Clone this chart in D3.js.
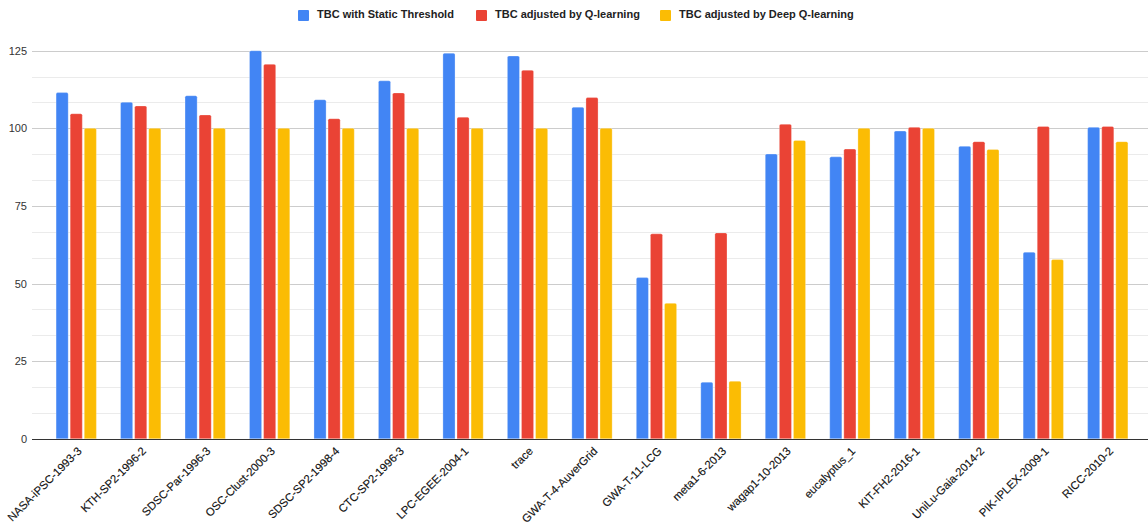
<!DOCTYPE html>
<html>
<head>
<meta charset="utf-8">
<script src="https://cdn.jsdelivr.net/npm/d3@7"></script>
<style>
  html, body { margin: 0; padding: 0; background: #fff; }
  svg { display: block; font-family: Arial, "Liberation Sans", sans-serif; }
</style>
</head>
<body>
<svg id="chart" width="1148" height="531"></svg>
<script>
// Workload traces on the x axis
const categories = [
  "NASA-iPSC-1993-3", "KTH-SP2-1996-2", "SDSC-Par-1996-3", "OSC-Clust-2000-3",
  "SDSC-SP2-1998-4", "CTC-SP2-1996-3", "LPC-EGEE-2004-1", "trace",
  "GWA-T-4-AuverGrid", "GWA-T-11-LCG", "meta1-6-2013", "wagap1-10-2013",
  "eucalyptus_1", "KIT-FH2-2016-1", "UniLu-Gaia-2014-2", "PIK-IPLEX-2009-1", "RICC-2010-2"
];

const seriesNames = [
  "TBC with Static Threshold",
  "TBC adjusted by Q-learning",
  "TBC adjusted by Deep Q-learning"
];

const staticThreshold = [111.5, 108.4, 110.5, 125.0, 109.2, 115.3, 124.2, 123.3, 106.8, 51.9, 18.2, 91.7, 90.8, 99.1, 94.2, 60.1, 100.3];
const qLearning       = [104.7, 107.2, 104.3, 120.6, 103.1, 111.4, 103.6, 118.7, 109.9, 66.0, 66.3, 101.3, 93.3, 100.3, 95.7, 100.6, 100.6];
const deepQLearning   = [100, 100, 100, 100, 100, 100, 100, 100, 100, 43.6, 18.5, 96.1, 100, 100, 93.2, 57.7, 95.7];

const yTicks = [0, 25, 50, 75, 100, 125];
const minorStep = 25 / 3;

const seriesValues = [staticThreshold, qLearning, deepQLearning];
const colors = ["#4285F4", "#EA4335", "#FBBC04"];

const svg = d3.select("#chart");

// Plot geometry
const gridLeft = 32, gridRight = 1148;
const bandLeft = 44, bandRight = 1140;
const yTop = 50.7, yBottom = 438.7;

const x = d3.scaleBand()
  .domain(categories)
  .range([bandLeft, bandRight])
  .paddingInner(0.375)
  .paddingOuter(0.1875);

const xInner = d3.scaleBand()
  .domain(d3.range(seriesNames.length))
  .range([0, x.bandwidth()])
  .paddingInner(0.14);

const y = d3.scaleLinear().domain([0, 125]).range([yBottom, yTop]);

// Minor gridlines
const minorVals = d3.range(minorStep, 125, minorStep).filter(v => Math.abs(v / 25 - Math.round(v / 25)) > 1e-6);
svg.append("g")
  .selectAll("line")
  .data(minorVals)
  .join("line")
  .attr("x1", gridLeft).attr("x2", gridRight)
  .attr("y1", d => Math.round(y(d)) + 0.5).attr("y2", d => Math.round(y(d)) + 0.5)
  .attr("stroke", "#ebebeb").attr("stroke-width", 1);

// Major gridlines
svg.append("g")
  .selectAll("line")
  .data(yTicks.filter(v => v > 0))
  .join("line")
  .attr("x1", gridLeft).attr("x2", gridRight)
  .attr("y1", d => Math.round(y(d)) + 0.5).attr("y2", d => Math.round(y(d)) + 0.5)
  .attr("stroke", "#cccccc").attr("stroke-width", 1);

// Y axis labels
const yAxis = d3.axisLeft(y).tickValues(yTicks).tickSize(0).tickPadding(0);
const yg = svg.append("g").attr("transform", `translate(${gridLeft - 5},0)`).call(yAxis);
yg.select(".domain").remove();
yg.selectAll("text")
  .attr("font-size", 11)
  .attr("font-family", "Arial, 'Liberation Sans', sans-serif")
  .attr("fill", "#333");

// Bars with slightly rounded tops
function barPath(x0, w, yTopPx, yBase) {
  const r = Math.min(1.5, w / 2, (yBase - yTopPx) / 2);
  return `M${x0},${yBase}V${yTopPx + r}Q${x0},${yTopPx} ${x0 + r},${yTopPx}` +
         `H${x0 + w - r}Q${x0 + w},${yTopPx} ${x0 + w},${yTopPx + r}V${yBase}Z`;
}

const groups = svg.append("g")
  .selectAll("g")
  .data(categories)
  .join("g")
  .attr("transform", d => `translate(${x(d)},0)`);

groups.selectAll("path")
  .data((d, i) => seriesValues.map((vals, s) => ({ s, v: vals[i] })))
  .join("path")
  .attr("d", d => barPath(xInner(d.s), xInner.bandwidth(), y(d.v), y(0)))
  .attr("fill", d => colors[d.s])
  .attr("stroke", "#ffffff")
  .attr("stroke-opacity", 0.35)
  .attr("stroke-width", 0.8);

// Baseline
svg.append("line")
  .attr("x1", gridLeft).attr("x2", gridRight)
  .attr("y1", Math.round(y(0)) + 0.5).attr("y2", Math.round(y(0)) + 0.5)
  .attr("stroke", "#333").attr("stroke-width", 1);

// X axis labels, rotated
const xAxis = d3.axisBottom(x).tickSize(0).tickPadding(0);
const xg = svg.append("g").attr("transform", `translate(0,${yBottom})`).call(xAxis);
xg.select(".domain").remove();
xg.selectAll("text")
  .attr("font-size", 11.3)
  .attr("font-family", "Arial, 'Liberation Sans', sans-serif")
  .attr("fill", "#111")
  .attr("stroke", "#111")
  .attr("stroke-width", 0.15)
  .attr("text-anchor", "end")
  .attr("dy", null)
  .attr("y", null)
  .attr("transform", "translate(4,11) rotate(-45)")
  .attr("dominant-baseline", "middle");

// Legend
const legendItems = [
  { name: seriesNames[0], x: 298 },
  { name: seriesNames[1], x: 476 },
  { name: seriesNames[2], x: 660 }
];
const legend = svg.append("g");
const li = legend.selectAll("g")
  .data(legendItems)
  .join("g")
  .attr("transform", d => `translate(${d.x},10)`);
li.append("rect")
  .attr("width", 11).attr("height", 11).attr("rx", 1)
  .attr("fill", (d, i) => colors[i]);
li.append("text")
  .attr("x", 19).attr("y", 5.5)
  .attr("dominant-baseline", "middle")
  .attr("font-size", 11)
  .attr("font-weight", "bold")
  .attr("font-family", "Arial, 'Liberation Sans', sans-serif")
  .attr("fill", "#222")
  .text(d => d.name);
</script>
</body>
</html>
